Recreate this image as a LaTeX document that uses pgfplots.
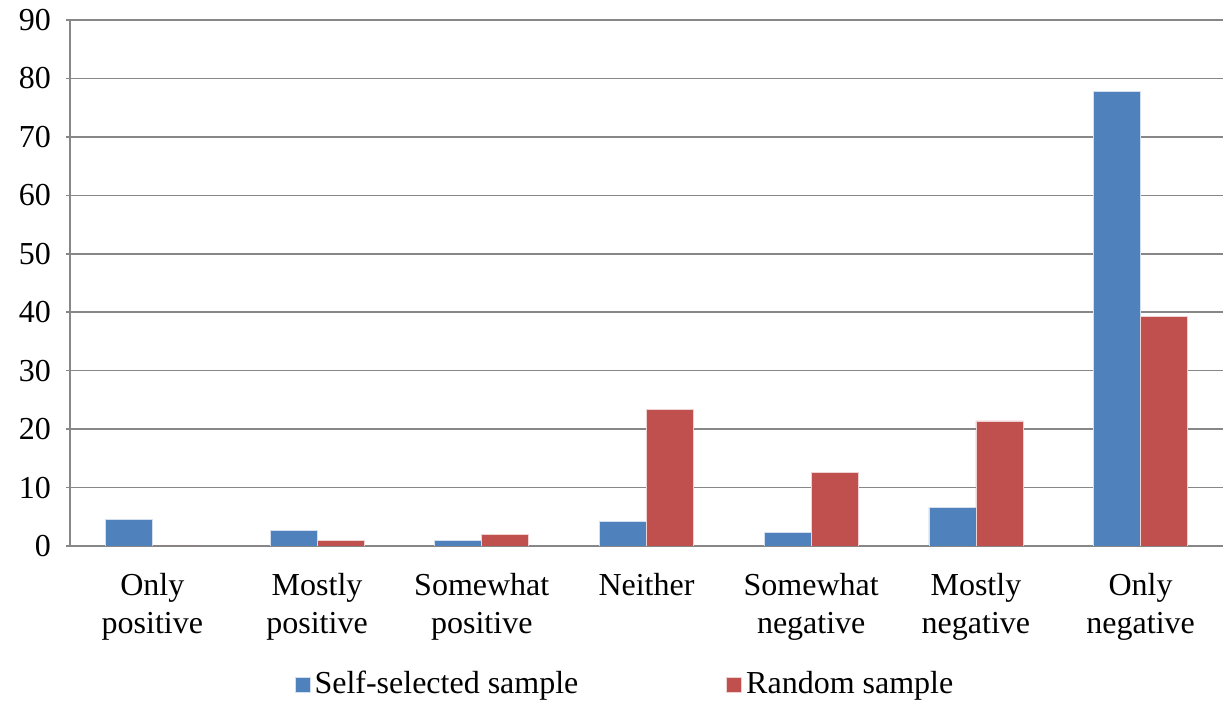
\documentclass[border=0pt]{standalone}
\usepackage{fontspec}
\setmainfont{Liberation Serif}
\usepackage{pgfplots}
\pgfplotsset{compat=1.18}
\definecolor{cblue}{HTML}{4F81BD}
\definecolor{cred}{HTML}{C0504D}
\definecolor{cgrid}{HTML}{878787}
\begin{document}
\fontsize{16}{19}\selectfont
\begin{tikzpicture}
\useasboundingbox (-35pt,-79.5pt) rectangle (576.5pt,273pt);
\begin{axis}[
  at={(0,0)}, anchor=south west,
  scale only axis, width=576.5pt, height=263pt,
  ybar=0pt, bar width=23.5pt,
  xmin=-0.5, xmax=6.5, ymin=0, ymax=90,
  ytick={0,10,...,90},
  xtick={0,...,6},
  xticklabels={{Only\\positive},{Mostly\\positive},{Somewhat\\positive},{Neither},{Somewhat\\negative},{Mostly\\negative},{Only\\negative}},
  x tick label style={align=center, yshift=-6pt, font=\fontsize{16}{19}\selectfont},
  y tick label style={font=\fontsize{16}{19}\selectfont, xshift=-2pt},
  xtick style={draw=none},
  minor xtick={-0.5,0.5,...,6.5},
  minor tick length=5pt,
  major tick length=4pt,
  tick align=outside,
  ytick pos=left,
  axis lines=left,
  axis line style={-, cgrid, line width=0.8pt},
  every tick/.style={cgrid, line width=0.8pt},
  minor x tick style={cgrid, line width=0.8pt},
  ymajorgrids,
  grid style={cgrid, line width=0.8pt},
  /pgf/number format/assume math mode=true,
  legend columns=2,
  legend style={at={(278pt,-69.5pt)}, anchor=center, draw=none, fill=none,
    font=\fontsize{16}{19}\selectfont,
    /tikz/every even column/.append style={column sep=72pt}},
  legend image code/.code={\fill[#1] (0pt,-3.75pt) rectangle (7.5pt,3.75pt);},
]
\addplot[fill=cblue, draw=white!75!cblue, line width=0.4pt] coordinates {(0,4.6) (1,2.7) (2,1.0) (3,4.2) (4,2.3) (5,6.6) (6,77.8)};
\addplot[fill=cred, draw=white!75!cred, line width=0.4pt] coordinates {(0,0) (1,0.9) (2,1.9) (3,23.4) (4,12.6) (5,21.4) (6,39.2)};
\legend{Self-selected sample, Random sample}
\end{axis}
\end{tikzpicture}
\end{document}
